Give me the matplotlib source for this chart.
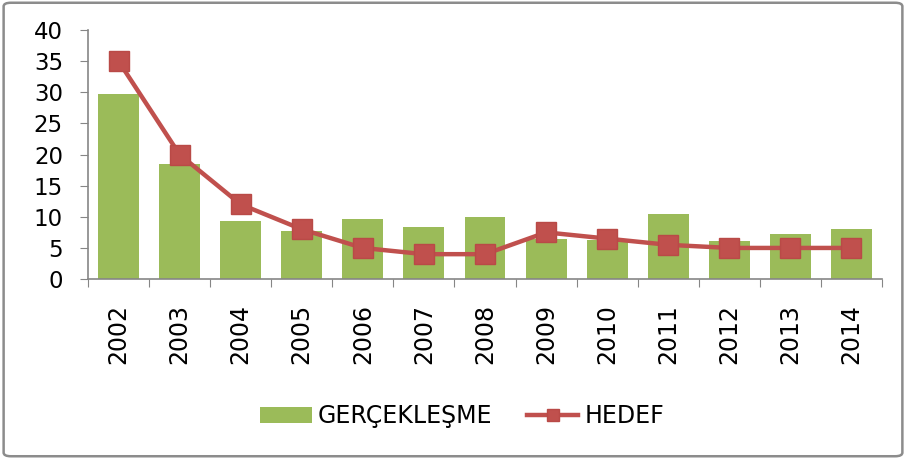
import numpy as np
import matplotlib.pyplot as plt
from matplotlib.patches import FancyBboxPatch

years = ['2002', '2003', '2004', '2005', '2006', '2007', '2008',
         '2009', '2010', '2011', '2012', '2013', '2014']
gerceklesme = [29.7, 18.5, 9.3, 7.7, 9.6, 8.4, 10.0, 6.5, 6.2, 10.4, 6.1, 7.3, 8.1]
hedef = [35, 20, 12, 8, 5, 4, 4, 7.5, 6.5, 5.5, 5, 5, 5]

plt.rcParams['font.family'] = ['DejaVu Sans']

fig = plt.figure(figsize=(9.06, 4.59), dpi=100)
ax = fig.add_axes([0.0971, 0.392, 0.8764, 0.5426])

x = np.arange(len(years))
bars = ax.bar(x, gerceklesme, width=0.67, color='#9BBB59', label='GERÇEKLEŞME', zorder=2)
line, = ax.plot(x, hedef, color='#C0504D', linewidth=3.2, marker='s', markersize=14,
                markerfacecolor='#C0504D', markeredgecolor='#B94A47', label='HEDEF', zorder=3)

ax.set_xlim(-0.5, len(years) - 0.5)
ax.set_ylim(0, 40)
ax.set_yticks(range(0, 41, 5))
ax.tick_params(axis='y', labelsize=16.5, length=6, color='#868686', pad=12)

ax.set_xticks(np.arange(-0.5, len(years), 1))
ax.set_xticklabels([])
ax.set_xticks(x, minor=True)
ax.set_xticklabels(years, minor=True, rotation=90, fontsize=17)
ax.tick_params(axis='x', which='major', length=6, color='#868686')
ax.tick_params(axis='x', which='minor', length=0, pad=18)

for s in ['top', 'right']:
    ax.spines[s].set_visible(False)
for s in ['left', 'bottom']:
    ax.spines[s].set_color('#868686')
    ax.spines[s].set_linewidth(1.2)

leg = fig.legend(handles=[bars, line], loc='center', bbox_to_anchor=(0.51, 0.093), ncol=2,
                 frameon=False, fontsize=17, handlelength=2.2, columnspacing=1.45,
                 handletextpad=0.25)
leg.legend_handles[1].set_markersize(9)

border = FancyBboxPatch((0.004, 0.006), 0.992, 0.988, boxstyle='round,pad=0,rounding_size=0.008',
                        transform=fig.transFigure, facecolor='none', edgecolor='#8C8C8C',
                        linewidth=1.8)
fig.patches.append(border)

fig.savefig('out.png', dpi=100)
